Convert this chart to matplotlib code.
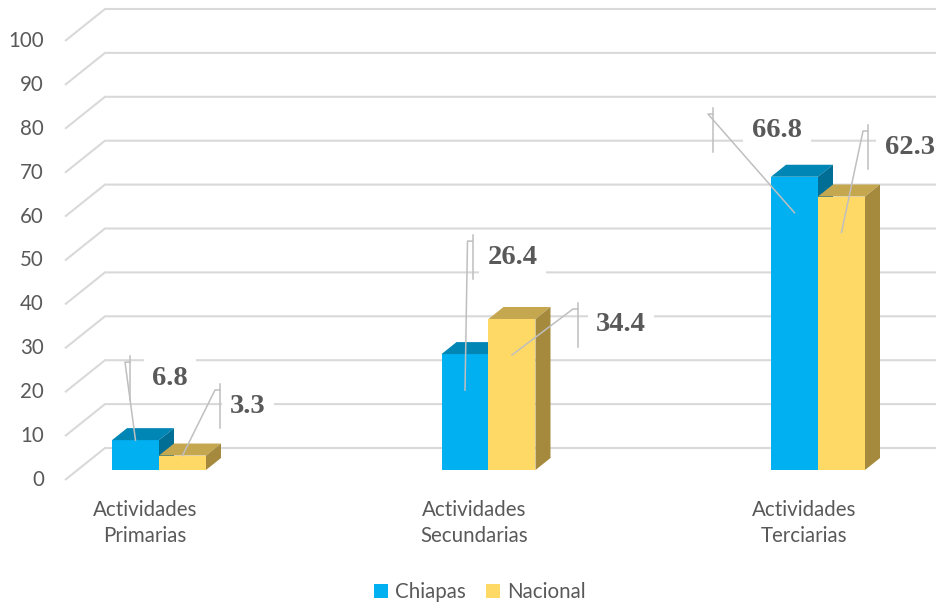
import matplotlib
matplotlib.use("Agg")
import matplotlib.pyplot as plt
from matplotlib.patches import Polygon

# Data
categories = ["Actividades\nPrimarias", "Actividades\nSecundarias", "Actividades\nTerciarias"]
series_names = ["Chiapas", "Nacional"]
chiapas = [6.8, 26.4, 66.8]
nacional = [3.3, 34.4, 62.3]
y_ticks = [0, 10, 20, 30, 40, 50, 60, 70, 80, 90, 100]

# Styles
front_colors = ["#00B0F0", "#FFD966"]
top_colors = ["#0086B5", "#C5A74F"]
side_colors = ["#006E95", "#A58A3E"]
grid_color = "#D9D9D9"
leader_color = "#BFBFBF"
text_color = "#595959"

# pixel scale of the chart (3D look: category spacing / value scale)
CAT_PX = 329.5
VAL_PX = 4.39


def ux(px):
    return px / CAT_PX


def uv(px):
    return px / VAL_PX


fig = plt.figure(figsize=(9.37, 6.05), dpi=100)
ax = fig.add_axes([0, 0, 1, 1])
ax.axis("off")
ax.set_xlim(ux(0 - 159), ux(937 - 159))
ax.set_ylim(uv(470 - 605), uv(470))

# perspective gridlines (front edge -> back wall -> right)
x_front, x_back = ux(65 - 159), ux(105 - 159)
x_end = ax.get_xlim()[1]
for t in y_ticks:
    ax.plot([x_front, x_back, x_end], [t - uv(10), t + uv(22), t + uv(22)],
            color=grid_color, lw=1.5, zorder=1, solid_capstyle="butt")
    ax.text(ux(44 - 159), t - uv(10), str(t), ha="right", va="center",
            fontsize=14.8, family="Lato", color=text_color)

# 3D bars
bw = ux(47)
ddx, ddv = ux(15), uv(12)
handles = []
for s, vals in enumerate([chiapas, nacional]):
    xs = [i + (s - 0.5) * bw for i in range(len(categories))]
    b = ax.bar(xs, vals, width=bw, color=front_colors[s], zorder=3 + s,
               label=series_names[s], linewidth=0)
    handles.append(b)
    for x, v in zip(xs, vals):
        l, r = x - bw / 2, x + bw / 2
        ax.add_patch(Polygon([(l, v), (r, v), (r + ddx, v + ddv), (l + ddx, v + ddv)],
                             closed=True, facecolor=top_colors[s], lw=0, zorder=3 + s))
        ax.add_patch(Polygon([(r, 0), (r + ddx, ddv), (r + ddx, v + ddv), (r, v)],
                             closed=True, facecolor=side_colors[s], lw=0, zorder=3 + s))

# data labels with leader lines (offsets in pixels from the bar top)
bracket_dx = [[-5.5, 7.5, -81.5], [37.5, 66, 26.5]]
label_dy = [[-62, -97, -46.7], [-49.5, 6, -49.5]]
text_dx = [[40, 40, 64], [28, 43, 42]]
anchor_drop = [[0, 36, 36], [0, 36, 36]]

for s, vals in enumerate([chiapas, nacional]):
    for i, v in enumerate(vals):
        x = i + (s - 0.5) * bw
        bx = x + ux(bracket_dx[s][i])
        ly = v - uv(label_dy[s][i])
        ex, ey = bx - ux(5), ly + uv(16)
        ay = v - uv(anchor_drop[s][i])
        ax.plot([x, ex, bx], [ay, ey, ey], color=leader_color, lw=1.1, zorder=7)
        ax.plot([bx, bx], [ly + uv(22), ly - uv(22)], color=leader_color, lw=1.1, zorder=7)
        ax.text(bx + ux(text_dx[s][i]), ly, f"{v:.1f}", ha="center", va="center",
                fontsize=20.5, fontweight="bold", family="Liberation Serif",
                color=text_color, zorder=6,
                bbox=dict(boxstyle="square,pad=0.3", facecolor="white", edgecolor="none"))

# category labels
for i, c in enumerate(categories):
    ax.text(i - ux(14), -uv(53), c, ha="center", va="center", fontsize=14.8,
            family="Lato", color=text_color, linespacing=1.4)

fig.legend(handles, series_names, loc="center", bbox_to_anchor=(480 / 937, 1 - 592 / 605),
           ncol=2, frameon=False, handlelength=0.65, handleheight=0.65,
           handletextpad=0.35, columnspacing=1.0, labelcolor=text_color,
           prop={"family": "Lato", "size": 14.8})

fig.savefig("out.png", dpi=100)
